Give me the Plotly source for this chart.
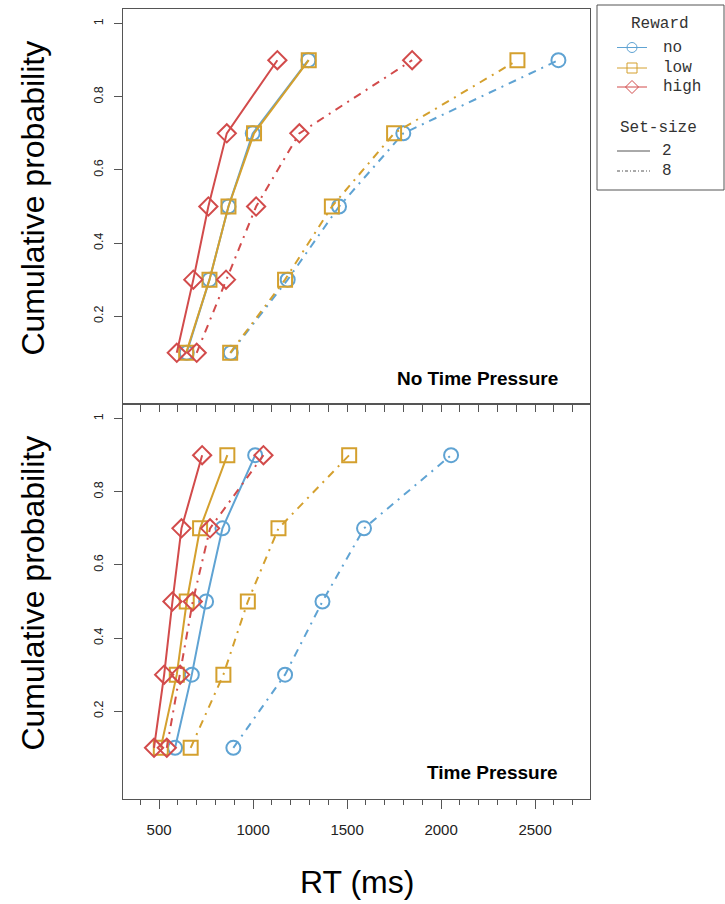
import plotly.graph_objects as go

# Quantile levels of the RT distributions
quantiles = [0.1, 0.3, 0.5, 0.7, 0.9]

# Reward conditions and their styling
rewards = ["no", "low", "high"]
reward_colors = {"no": "#5fa3d3", "low": "#d4a02e", "high": "#d24b4b"}
reward_symbols = {"no": "circle-open", "low": "square-open", "high": "diamond-open"}

# Set-size conditions
set_sizes = ["2", "8"]
set_dash = {"2": "solid", "8": "8px,6px,2px,6px"}

# RT quantiles (ms), No Time Pressure condition
ntp_no_2 = [647, 768, 869, 998, 1294]
ntp_low_2 = [644, 768, 869, 1005, 1296]
ntp_high_2 = [594, 682, 762, 860, 1129]
ntp_no_8 = [881, 1184, 1457, 1799, 2624]
ntp_low_8 = [878, 1170, 1419, 1750, 2406]
ntp_high_8 = [700, 856, 1016, 1246, 1846]

# RT quantiles (ms), Time Pressure condition
tp_no_2 = [585, 674, 750, 837, 1011]
tp_low_2 = [509, 594, 647, 718, 863]
tp_high_2 = [473, 527, 571, 619, 729]
tp_no_8 = [895, 1170, 1369, 1590, 2053]
tp_low_8 = [668, 842, 972, 1135, 1511]
tp_high_8 = [541, 612, 679, 771, 1055]

panels = [
    ("No Time Pressure", "x", "y", {
        ("no", "2"): ntp_no_2, ("low", "2"): ntp_low_2, ("high", "2"): ntp_high_2,
        ("no", "8"): ntp_no_8, ("low", "8"): ntp_low_8, ("high", "8"): ntp_high_8}),
    ("Time Pressure", "x2", "y2", {
        ("no", "2"): tp_no_2, ("low", "2"): tp_low_2, ("high", "2"): tp_high_2,
        ("no", "8"): tp_no_8, ("low", "8"): tp_low_8, ("high", "8"): tp_high_8}),
]

x_ticks = [500, 1000, 1500, 2000, 2500]
y_ticks = [0.2, 0.4, 0.6, 0.8, 1.0]
y_ticktext = ["0.2", "0.4", "0.6", "0.8", "1"]
x_range = [308, 2792]
y_range = [-0.04, 1.04]

W, H = 725, 904
FONT = "Liberation Sans, Arial, sans-serif"
MONO = "Liberation Mono, Courier New, monospace"
FRAME = "#555555"

fig = go.Figure()

for title, xa, ya, series in panels:
    for ss in set_sizes:
        for rw in rewards:
            fig.add_trace(go.Scatter(
                x=series[(rw, ss)], y=quantiles, xaxis=xa, yaxis=ya,
                mode="lines+markers", showlegend=False,
                line=dict(color=reward_colors[rw], width=2, dash=set_dash[ss]),
                marker=dict(symbol=reward_symbols[rw], size=14,
                            color=reward_colors[rw],
                            line=dict(color=reward_colors[rw], width=2)),
            ))

# Legend sample glyphs, drawn on a small pixel-scaled axis
legend_rows_reward = [47.5, 68, 87]
legend_rows_set = [151, 171]
for rw, yy in zip(rewards, legend_rows_reward):
    fig.add_trace(go.Scatter(
        x=[617, 632, 647], y=[yy, yy, yy], xaxis="x3", yaxis="y3",
        mode="lines", showlegend=False, hoverinfo="skip",
        line=dict(color=reward_colors[rw], width=1)))
    fig.add_trace(go.Scatter(
        x=[632], y=[yy], xaxis="x3", yaxis="y3",
        mode="markers", showlegend=False, hoverinfo="skip",
        marker=dict(symbol=reward_symbols[rw], size=10, color=reward_colors[rw],
                    line=dict(color=reward_colors[rw], width=1)))) 
for ss, yy in zip(set_sizes, legend_rows_set):
    fig.add_trace(go.Scatter(
        x=[617, 650], y=[yy, yy], xaxis="x3", yaxis="y3",
        mode="lines", showlegend=False, hoverinfo="skip",
        line=dict(color="#555555", width=1,
                  dash="solid" if ss == "2" else "3px,2px,1px,2px")))

annotations = []
for i, (title, xa, ya, series) in enumerate(panels):
    annotations.append(dict(
        text="<b>" + title + "</b>", xref=xa + " domain", yref=ya + " domain",
        x=(560 - 123) / (590 - 123), y=(404 - 378) / 395 if i == 0 else (799 - 772) / 395,
        xanchor="right", yanchor="middle", showarrow=False,
        font=dict(family=FONT, size=19, color="#000000")))
    annotations.append(dict(
        text="Cumulative probability", textangle=-90,
        xref="paper", yref=ya + " domain", x=33 / W, y=0.52,
        xanchor="center", yanchor="middle", showarrow=False,
        font=dict(family=FONT, size=32, color="#000000")))

annotations.append(dict(
    text="RT (ms)", xref="paper", yref="paper", x=357 / W, y=1 - 882 / H,
    xanchor="center", yanchor="middle", showarrow=False,
    font=dict(family=FONT, size=32, color="#000000")))

# Legend text
annotations.append(dict(text="Reward", xref="x3", yref="y3", x=660, y=24,
                        xanchor="center", yanchor="middle", showarrow=False,
                        font=dict(family=MONO, size=16, color="#333333")))
for rw, yy in zip(rewards, legend_rows_reward):
    annotations.append(dict(text=rw, xref="x3", yref="y3", x=661, y=yy,
                            xanchor="left", yanchor="middle", showarrow=False,
                            font=dict(family=MONO, size=16, color="#333333")))
annotations.append(dict(text="Set-size", xref="x3", yref="y3", x=618, y=128,
                        xanchor="left", yanchor="middle", showarrow=False,
                        font=dict(family=MONO, size=16, color="#333333")))
for ss, yy in zip(set_sizes, legend_rows_set):
    annotations.append(dict(text=ss, xref="x3", yref="y3", x=667, y=yy,
                            xanchor="center", yanchor="middle", showarrow=False,
                            font=dict(family=MONO, size=16, color="#333333")))

xdom = [123 / W, 590 / W]
common_x = dict(domain=xdom, range=x_range, showline=True, mirror=True,
                linecolor=FRAME, linewidth=1, showgrid=False, zeroline=False,
                ticks="outside", tickcolor=FRAME, tickwidth=1)
common_y = dict(range=y_range, showline=True, mirror=True, linecolor=FRAME,
                linewidth=1, showgrid=False, zeroline=False, ticks="outside",
                tickcolor=FRAME, tickwidth=1, ticklen=8, tickvals=y_ticks,
                ticktext=y_ticktext, tickangle=-90, ticklabelstandoff=6,
                tickfont=dict(family=FONT, size=12.5, color="#222222"))

fig.update_layout(
    width=W, height=H, margin=dict(l=0, r=0, t=0, b=0),
    paper_bgcolor="white", plot_bgcolor="white",
    xaxis=dict(**common_x, anchor="y", tickmode="linear", tick0=0, dtick=100,
               ticklen=7, showticklabels=False),
    yaxis=dict(**common_y, anchor="x", domain=[(H - 404) / H, (H - 9) / H]),
    xaxis2=dict(**common_x, anchor="y2", tickvals=x_ticks, ticklen=9,
                ticklabelstandoff=8,
                tickfont=dict(family=FONT, size=15, color="#222222"),
                minor=dict(tickmode="linear", tick0=0, dtick=100, ticklen=5,
                           ticks="outside", tickcolor=FRAME)),
    yaxis2=dict(**common_y, anchor="x2", domain=[(H - 799) / H, (H - 404) / H]),
    xaxis3=dict(domain=[597 / W, 724 / W], range=[597, 724], visible=False,
                anchor="y3", fixedrange=True),
    yaxis3=dict(domain=[(H - 190) / H, (H - 5) / H], range=[190, 5],
                visible=False, anchor="x3", fixedrange=True),
    annotations=annotations,
    shapes=[dict(type="rect", xref="x3 domain", yref="y3 domain",
                 x0=0, x1=1, y0=0, y1=1, line=dict(color=FRAME, width=1))],
)

fig.write_html("out.html")
